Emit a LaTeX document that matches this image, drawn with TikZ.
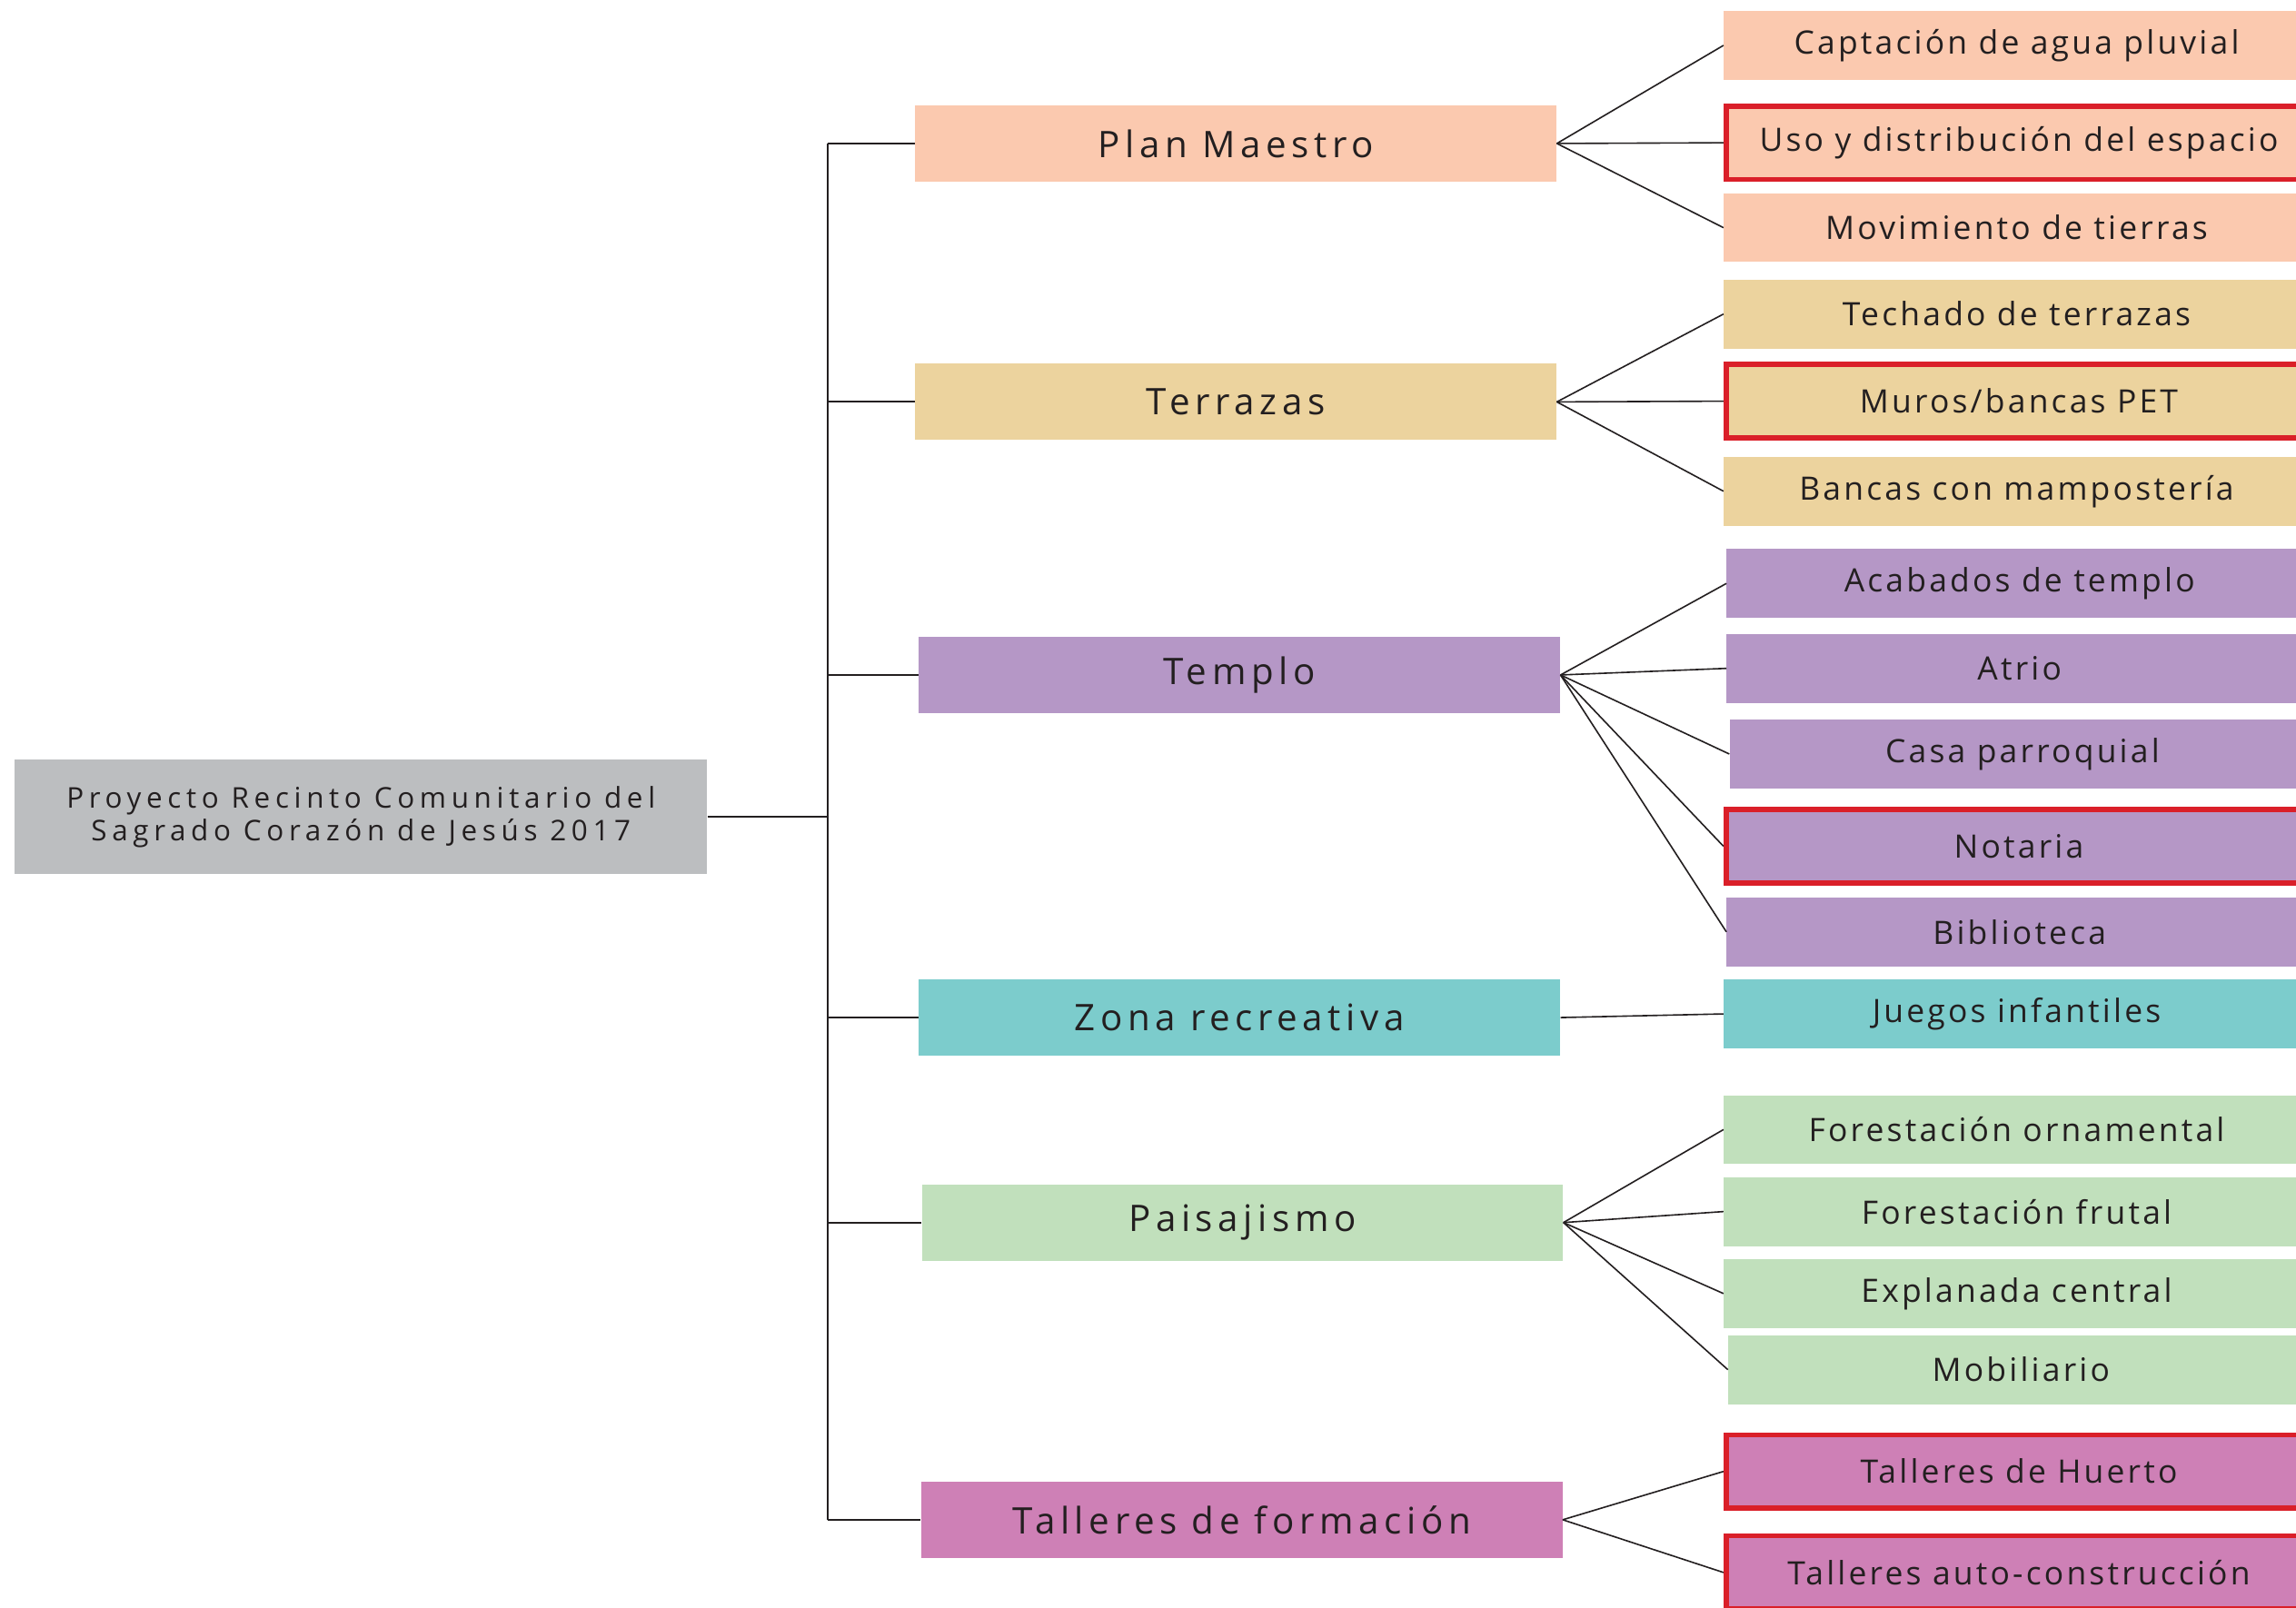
\documentclass[tikz,border=0pt]{standalone}
\usepackage{fontspec}
\setmainfont{Open Sans}
\newfontfamily\rootfont[LetterSpace=18]{Open Sans}
\newfontfamily\areafont[LetterSpace=14]{Open Sans}
\newfontfamily\itemfont[LetterSpace=9]{Open Sans}
\usepackage{xcolor}
\usetikzlibrary{positioning, calc}
\definecolor{ink}{HTML}{231F20}
\definecolor{rootgray}{HTML}{BCBEC0}
\definecolor{peach}{HTML}{FBC9AF}
\definecolor{sand}{HTML}{ECD39E}
\definecolor{lilac}{HTML}{B597C6}
\definecolor{teal}{HTML}{7CCCCC}
\definecolor{mint}{HTML}{C1E0BC}
\definecolor{orchid}{HTML}{CE80B6}
\definecolor{markred}{HTML}{DA1F29}
\tikzset{
  rootbox/.style={rectangle, fill=rootgray, minimum width=473pt, minimum height=78pt,
                  inner sep=0pt, align=center, text=ink,
                  font=\rootfont\fontsize{19.5}{22}\selectfont},
  areabox/.style={rectangle, fill=#1, minimum width=438pt, minimum height=52pt,
                  inner sep=0pt, text=ink, font=\areafont\fontsize{25}{28}\selectfont},
  itembox/.style={rectangle, fill=#1, minimum width=400pt, minimum height=47pt,
                  inner sep=0pt, anchor=west, text=ink,
                  font=\itemfont\fontsize{22}{25}\selectfont},
  marked/.style={draw=markred, line width=3.5pt, minimum height=50pt},
  link/.style={draw=ink, line width=1pt},
  trunk/.style={draw=ink, line width=1.3pt},
}

\begin{document}
\begin{tikzpicture}[x=1pt, y=-1pt]
  \useasboundingbox (0,0) rectangle (1568,1098);
  \clip (0,0) rectangle (1568,1098);

  % root
  \node[rootbox] (root) at (246.5,558) {Proyecto Recinto Comunitario del\\Sagrado Corazón de Jesús 2017};

  % areas
  \node[areabox=peach]  (plan)   at (844,98)    {Plan Maestro};
  \node[areabox=sand]   (terr)   at (844,274.5) {Terrazas};
  \node[areabox=lilac]  (templo) at (846.5,461) {Templo};
  \node[areabox=teal]   (zona)   at (846.5,695) {Zona recreativa};
  \node[areabox=mint]   (paisaj) at (848.5,835) {Paisajismo};
  \node[areabox=orchid] (taller) at (848,1038)  {Talleres de formación};

  % items
  \node[itembox=peach]          (capt) at (1177,31)    {Captación de agua pluvial};
  \node[itembox=peach, marked]  (uso)  at (1177,97.5)  {Uso y distribución del espacio};
  \node[itembox=peach]          (movt) at (1177,155.5) {Movimiento de tierras};
  \node[itembox=sand]           (tech) at (1177,214.5) {Techado de terrazas};
  \node[itembox=sand, marked]   (muro) at (1177,274)   {Muros/bancas PET};
  \node[itembox=sand]           (banc) at (1177,335.5) {Bancas con mampostería};
  \node[itembox=lilac]          (acab) at (1179,398.5) {Acabados de templo};
  \node[itembox=lilac]          (atri) at (1179,456.5) {Atrio};
  \node[itembox=lilac]          (casa) at (1181,515)   {Casa parroquial};
  \node[itembox=lilac, marked]  (nota) at (1177,578)   {Notaria};
  \node[itembox=lilac]          (bibl) at (1179,636.5) {Biblioteca};
  \node[itembox=teal]           (jueg) at (1177,692.5) {Juegos infantiles};
  \node[itembox=mint]           (forn) at (1177,771.5) {Forestación ornamental};
  \node[itembox=mint]           (frut) at (1177,827.5) {Forestación frutal};
  \node[itembox=mint]           (expl) at (1177,883.5) {Explanada central};
  \node[itembox=mint]           (mobi) at (1180,935.5) {Mobiliario};
  \node[itembox=orchid, marked] (huer) at (1177,1005)  {Talleres de Huerto};
  \node[itembox=orchid, marked] (auto) at (1177,1074)  {Talleres auto-construcción};

  % trunk
  \coordinate (fork) at (565,558);
  \draw[trunk] (root.east) -- (fork);
  \draw[trunk] (fork |- plan.west) -- (fork |- taller.west);
  \foreach \a in {plan,terr,templo,zona,paisaj,taller}
    \draw[trunk] (fork |- \a.west) -- (\a.west);

  % branches
  \foreach \c in {capt,uso,movt} \draw[link] (plan.east) -- (\c.west);
  \foreach \c in {tech,muro,banc} \draw[link] (terr.east) -- (\c.west);
  \foreach \c in {acab,atri,casa,nota,bibl} \draw[link] (templo.east) -- (\c.west);
  \draw[link] (zona.east) -- (jueg.west);
  \foreach \c in {forn,frut,expl,mobi} \draw[link] (paisaj.east) -- (\c.west);
  \foreach \c in {huer,auto} \draw[link] (taller.east) -- (\c.west);
\end{tikzpicture}
\end{document}
